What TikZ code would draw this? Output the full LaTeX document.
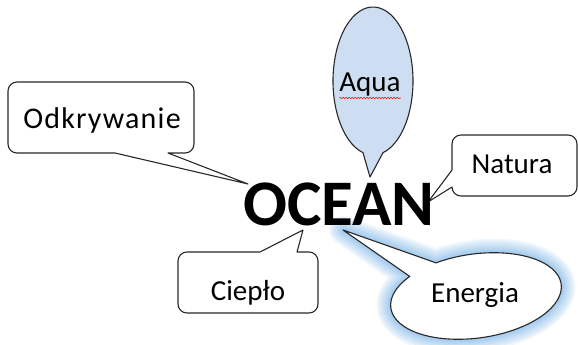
\documentclass[tikz,border=0pt]{standalone}
\usepackage{fontspec}
\setmainfont{Carlito}
\usetikzlibrary{decorations.pathmorphing}
\definecolor{aquafill}{RGB}{206,222,242}
\definecolor{glowblue}{RGB}{110,172,228}
\definecolor{outline}{RGB}{40,40,40}
\definecolor{squiggle}{RGB}{230,40,40}
\tikzset{
  bubble/.style={draw=outline, line width=1.1pt, fill=white, line join=round},
  word/.style={inner sep=0pt, anchor=base, font=\fontsize{29}{31}\selectfont},
  headword/.style={inner sep=0pt, anchor=base, font=\fontsize{65}{70}\selectfont\bfseries},
  glow/.style={draw=glowblue, line join=round, fill=none},
}
\begin{document}
\begin{tikzpicture}[x=1pt,y=1pt,yscale=-1]
\useasboundingbox (0,0) rectangle (578,345);

% pointer tips around the central word
\coordinate (tipO) at (248,184);
\coordinate (tipA) at (370,177);
\coordinate (tipN) at (428,202);
\coordinate (tipC) at (303,230);
\coordinate (tipE) at (343,230);

% rounded box, pointer on the bottom edge
\draw[bubble] (17,82) -- (185,82) arc[start angle=270,end angle=360,radius=9]
  -- (194,144) arc[start angle=0,end angle=90,radius=9]
  -- (168,153) -- (tipO) -- (115,153)
  -- (17,153) arc[start angle=90,end angle=180,radius=9]
  -- (8,91) arc[start angle=180,end angle=270,radius=9] -- cycle;

% oval bubble, pointer downwards
\draw[bubble, fill=aquafill] (373,81) ++(104.5:40 and 74)
  arc[start angle=104.5,end angle=435.5,x radius=40,y radius=74] -- (tipA) -- cycle;

% rounded box, pointer on the left edge
\draw[bubble] (461,135) -- (568,135) arc[start angle=270,end angle=360,radius=9]
  -- (577,187) arc[start angle=0,end angle=90,radius=9]
  -- (461,196) arc[start angle=90,end angle=180,radius=9]
  -- (452,187) -- (tipN) -- (452,170)
  -- (452,144) arc[start angle=180,end angle=270,radius=9] -- cycle;

% rounded box, pointer on the top edge
\draw[bubble] (187,252) -- (260,252) -- (tipC) -- (297,252)
  -- (309,252) arc[start angle=270,end angle=360,radius=9]
  -- (318,304) arc[start angle=0,end angle=90,radius=9]
  -- (187,313) arc[start angle=90,end angle=180,radius=9]
  -- (178,261) arc[start angle=180,end angle=270,radius=9] -- cycle;

% tilted oval bubble with a soft blue glow
\foreach \w in {28,24,20,16,12,9,6,3}
  \draw[glow, line width=\w pt, draw opacity=.11, shift={(476,296)}, rotate=-8]
    (246:86 and 42) arc[start angle=246,end angle=583,x radius=86,y radius=42]
    -- (tipE) -- cycle;
\draw[bubble, shift={(476,296)}, rotate=-8]
  (246:86 and 42) arc[start angle=246,end angle=583,x radius=86,y radius=42]
  -- (tipE) -- cycle;

% labels
\node[word, font=\fontsize{30}{32}\selectfont\addfontfeature{LetterSpace=4}]
  (odk) at (102,128) {Odkrywanie};
\node[word] (aqua) at (370,92) {Aqua};
\node[word] (nat) at (512,173) {Natura};
\node[word] (ciep) at (248,300) {Ciepło};
\node[word] (ener) at (475,302) {Energia};
\draw[squiggle, line width=0.6pt, decorate,
      decoration={snake, amplitude=0.8pt, segment length=3pt}]
  ([yshift=6pt]aqua.base west) -- ([yshift=6pt]aqua.base east);

% central word
\node[headword] (ocean) at (339,225) {OCEAN};
\end{tikzpicture}
\end{document}
